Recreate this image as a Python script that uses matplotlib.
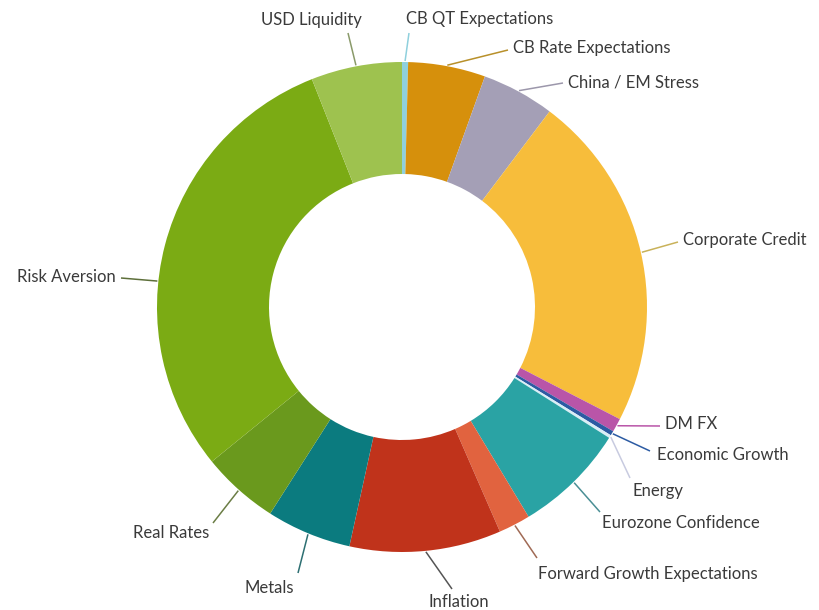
import matplotlib
matplotlib.use("Agg")

import numpy as np
import matplotlib.pyplot as plt

# Доли факторов (в %), по часовой стрелке от 12 часов
labels = [
    "CB QT Expectations", "CB Rate Expectations", "China / EM Stress",
    "Corporate Credit", "DM FX", "Economic Growth", "Energy",
    "Eurozone Confidence", "Forward Growth Expectations", "Inflation",
    "Metals", "Real Rates", "Risk Aversion", "USD Liquidity",
]
values = [0.4, 5.1, 4.8, 22.3, 0.9, 0.3, 0.2, 7.4, 2.1, 10.0, 5.6, 5.1, 29.9, 6.0]
colors = [
    "#8fd0dd", "#d6900c", "#a49fb6", "#f7bd3b", "#b955a8", "#2c5ba3", "#d9eef6",
    "#2aa3a4", "#e1633f", "#c0331b", "#0b7b7f", "#6a991d", "#7bab14", "#9ec24f",
]
line_colors = [
    "#8fd0dd", "#b8902a", "#9c97ab", "#c9b25a", "#b955a8", "#2c5ba3", "#c8cbe0",
    "#4a8f95", "#a06a55", "#555555", "#2d6f72", "#6b7d45", "#5d6f3a", "#8a9a6a",
]

# Раскладка подписей (в пикселях картинки): текст, выравнивание, конец линии, точка крепления на дуге
label_pos = [
    (406, 19, "left", (409, 33), 0.5),
    (513, 48, "left", (508, 50), 0.5),
    (568, 82, "left", (563, 83), 0.5),
    (683, 240, "left", (678, 242), 0.5),
    (665, 424, "left", (660, 426), 0.5),
    (657, 455, "left", (650, 451), 0.5),
    (632, 491, "left", (630, 478), 0.5),
    (602, 523, "left", (600, 512), 0.5),
    (538, 574, "left", (537, 558), 0.5),
    (428, 602, "left", (452, 589), 0.5),
    (245, 588, "left", (298, 573), 0.5),
    (133, 533, "left", (213, 523), 0.5),
    (17, 277, "left", (121, 278), 0.42),
    (311, 20, "center", (348, 33), 0.5),
]

W, H = 819, 610
cx, cy = 402, 307
R, r = 245, 133


def py(y):
    return H - y


fig = plt.figure(figsize=(W / 100, H / 100), dpi=100)
ax = fig.add_axes([0, 0, 1, 1])
ax.set_xlim(0, W)
ax.set_ylim(0, H)
ax.axis("off")

wedges, _ = ax.pie(
    values, colors=colors, startangle=90, counterclock=False,
    center=(cx, py(cy)), radius=R,
    wedgeprops=dict(width=R - r, linewidth=0),
)
ax.set_xlim(0, W)
ax.set_ylim(0, H)

for w, lab, col, (tx, ty, ha, (ex, ey), frac) in zip(wedges, labels, line_colors, label_pos):
    t1, t2 = min(w.theta1, w.theta2), max(w.theta1, w.theta2)
    ang = np.deg2rad(t2 - frac * (t2 - t1))
    x0 = cx + (R + 1) * np.cos(ang)
    y0 = py(cy) + (R + 1) * np.sin(ang)
    ax.plot([x0, ex], [y0, py(ey)], color=col, lw=1.1, solid_capstyle="butt")
    ax.text(tx, py(ty), lab, ha=ha, va="center", fontsize=12,
            family="Lato", color="#3a3a3a")

plt.savefig("out.png", dpi=100, facecolor="white")
